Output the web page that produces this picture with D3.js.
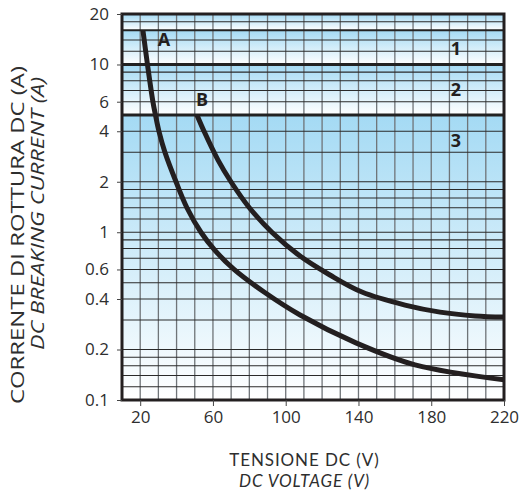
<!DOCTYPE html>
<html><head><meta charset="utf-8">
<script src="https://cdn.jsdelivr.net/npm/d3@7"></script>
<style>body{margin:0;background:#fff}svg{display:block}</style>
</head><body>
<svg id="c" width="521" height="494"></svg>
<script>
// ---- data ----
const xTicks = [20, 60, 100, 140, 180, 220];
const yTicks = [0.1, 0.2, 0.4, 0.6, 1, 2, 4, 6, 10, 20];
const xGrid = [20,30,40,50,60,70,80,90,100,110,120,130,140,150,160,170,180,190,200,210];
const yGrid = [0.12,0.14,0.16,0.18,0.2,0.3,0.4,0.5,0.6,0.7,0.8,0.9,1,1.2,1.4,1.6,1.8,2,3,4,6,7,8,9,12,14,18];
const thickLines = [16, 10, 5];
const bands = [20, 16, 10, 5, 0.1];
const curveA = [[21.5,16],[24.0,10],[27.0,6],[28.4,5],[30.3,4],[33.6,3],[39.7,2],[45.7,1.4],[53.4,1],[61.1,0.78],[71.6,0.6],[88.1,0.44],[107.9,0.321],[138.6,0.219],[171.1,0.162],[220,0.132]];
const curveB = [[51.2,5],[55.1,4],[62.8,2.69],[69.9,2],[79.8,1.41],[92.4,1],[107.9,0.721],[124.3,0.556],[141.9,0.44],[165.6,0.368],[184.8,0.334],[204.1,0.317],[220,0.312]];
const curveLabels = [["A",33,14],["B",54,6.2]];
const zoneLabels = [["1",193.5,12.5],["2",193.5,7.1],["3",193.5,3.5]];
const yTitle = ["CORRENTE DI ROTTURA DC (A)", "DC BREAKING CURRENT (A)"];
const xTitle = ["TENSIONE DC (V)", "DC VOLTAGE (V)"];

const svg = d3.select("#c");
const FONT = "'Open Sans', Lato, sans-serif";
const x = d3.scaleLinear().domain([10, 220]).range([122, 504]);
const y = d3.scaleLog().domain([0.1, 20]).range([400, 14]);

// gradient bands
const defs = svg.append("defs");
const g = defs.append("linearGradient").attr("id","bg").attr("x1",0).attr("y1",0).attr("x2",0).attr("y2",1);
g.append("stop").attr("offset",0).attr("stop-color","#a4daf4");
g.append("stop").attr("offset",1).attr("stop-color","#ffffff");
for (let i = 0; i < bands.length - 1; i++) {
  svg.append("rect").attr("x", x(10)).attr("width", x(220) - x(10))
    .attr("y", y(bands[i])).attr("height", y(bands[i+1]) - y(bands[i]))
    .attr("fill", "url(#bg)");
}
// vertical grid
svg.append("g").selectAll("line").data(xGrid).join("line")
  .attr("x1", d => x(d)).attr("x2", d => x(d)).attr("y1", y(20)).attr("y2", y(0.1))
  .attr("stroke", "#6f7478").attr("stroke-width", 1.3);
// horizontal grid
svg.append("g").selectAll("line").data(yGrid).join("line")
  .attr("x1", x(10)).attr("x2", x(220)).attr("y1", d => y(d)).attr("y2", d => y(d))
  .attr("stroke", "#2a2a2a").attr("stroke-width", 1.1);
svg.append("g").selectAll("line").data(thickLines).join("line")
  .attr("x1", x(10)).attr("x2", x(220)).attr("y1", d => y(d)).attr("y2", d => y(d))
  .attr("stroke", "#222").attr("stroke-width", d => d === 16 ? 2 : 3);

// curves
const line = d3.line().x(d => x(d[0])).y(d => y(d[1])).curve(d3.curveCatmullRom.alpha(0.5));
[curveA, curveB].forEach(c => svg.append("path").attr("d", line(c))
  .attr("fill", "none").attr("stroke", "#231f20").attr("stroke-width", 5).attr("stroke-linecap", "butt"));

// border
svg.append("rect").attr("x", x(10)).attr("y", y(20)).attr("width", x(220) - x(10)).attr("height", y(0.1) - y(20))
  .attr("fill", "none").attr("stroke", "#231f20").attr("stroke-width", 3);

// axes
const xAxis = svg.append("g").attr("transform", `translate(0,${y(0.1)})`)
  .call(d3.axisBottom(x).tickValues(xTicks).tickSize(6).tickPadding(5).tickFormat(d3.format("d")));
const yAxis = svg.append("g").attr("transform", `translate(${x(10)},0)`)
  .call(d3.axisLeft(y).tickValues(yTicks).tickSize(5).tickPadding(8).tickFormat(d => String(d)));
[xAxis, yAxis].forEach(a => {
  a.select(".domain").remove();
  a.selectAll(".tick line").attr("stroke", "#444").attr("stroke-width", 1);
  a.selectAll("text").attr("font-family", FONT).attr("font-size", 17).attr("fill", "#2e2e2e");
});

// labels
svg.append("g").selectAll("text").data(curveLabels.concat(zoneLabels)).join("text")
  .attr("x", d => x(d[1])).attr("y", d => y(d[2])).attr("dy", "0.35em").attr("text-anchor", "middle")
  .attr("font-family", FONT).attr("font-weight", "bold").attr("font-size", 18).attr("fill", "#231f20")
  .text(d => d[0]);

// titles
const yStart = [404, 350], yLen = [338, 273], yBase = [24, 44];
yTitle.forEach((t, i) => svg.append("text")
  .attr("transform", `translate(${yBase[i]},${yStart[i]}) rotate(-90)`).attr("text-anchor", "start")
  .attr("font-family", FONT).attr("font-size", 19).attr("fill", "#2e2e2e")
  .attr("textLength", yLen[i]).attr("lengthAdjust", "spacingAndGlyphs")
  .attr("font-style", i ? "italic" : "normal").text(t));
xTitle.forEach((t, i) => svg.append("text")
  .attr("x", 304.5).attr("y", 466 + i * 21).attr("text-anchor", "middle")
  .attr("font-family", "Lato, sans-serif").attr("font-size", 17).attr("letter-spacing", 0.9)
  .attr("fill", "#2e2e2e")
  .attr("font-style", i ? "italic" : "normal").text(t));
</script>
</body></html>
